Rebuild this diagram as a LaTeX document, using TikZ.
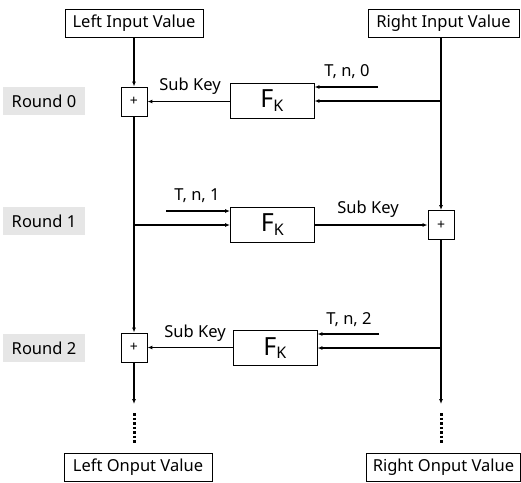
\documentclass[tikz,border=0pt]{standalone}
\usepackage{fontspec}
\setmainfont{Noto Sans}
\usetikzlibrary{arrows.meta}
\definecolor{roundbg}{HTML}{E6E6E6}
\begin{document}
\begin{tikzpicture}[x=1pt,y=-1pt,
  valbox/.style={draw,line width=0.9pt,minimum height=28pt,inner sep=0pt,font=\fontsize{16.5}{18}\selectfont},
  plusbox/.style={draw,line width=0.9pt,minimum width=26pt,minimum height=29pt,inner sep=0pt,font=\fontsize{14}{16}\selectfont},
  fkbox/.style={draw,line width=0.9pt,minimum width=84pt,minimum height=35pt,inner sep=0pt,font=\fontsize{25}{28}\selectfont},
  roundlbl/.style={fill=roundbg,minimum width=82pt,minimum height=28pt,inner sep=0pt,font=\fontsize{16.5}{18}\selectfont},
  lbl/.style={font=\fontsize{16.5}{18}\selectfont,inner sep=1pt},
  arr/.style={line width=1.3pt,-{Latex[length=5pt,width=4pt]}},
  ln/.style={line width=1.3pt},
  dots/.style={line width=3pt,dash pattern=on 2.5pt off 2pt}
]
\useasboundingbox (0,0) rectangle (521,482);
% input/output boxes
\node[valbox,minimum width=138pt] (lin) at (134,23) {Left Input Value};
\node[valbox,minimum width=151pt] (rin) at (443.5,23) {Right Input Value};
\node[valbox,minimum width=148pt] (lout) at (138,467) {Left Onput Value};
\node[valbox,minimum width=154pt] (rout) at (443.5,467) {Right Onput Value};
% round labels
\node[roundlbl] (r0) at (44,101) {Round 0};
\node[roundlbl] (r1) at (44,221) {Round 1};
\node[roundlbl] (r2) at (44,348) {Round 2};
% plus boxes
\node[plusbox] (p0) at (134,101.5) {+};
\node[plusbox] (p1) at (441,225) {+};
\node[plusbox] (p2) at (134,347.5) {+};
% F boxes
\node[fkbox] (f0) at (272,100.5) {F\textsubscript{\fontsize{16}{18}\selectfont K}};
\node[fkbox] (f1) at (272.5,224.5) {F\textsubscript{\fontsize{16}{18}\selectfont K}};
\node[fkbox] (f2) at (275,348) {F\textsubscript{\fontsize{16}{18}\selectfont K}};
% coordinates
\coordinate (t0s) at (378,87);
\coordinate (t1s) at (166,211);
\coordinate (t2s) at (379,334);
\coordinate (b0) at (441,101);
\coordinate (b1) at (135,225);
\coordinate (b2) at (441,348);
\coordinate (la) at (134,404);
\coordinate (ra) at (441,404);
\coordinate (ld1) at (134,413);
\coordinate (ld2) at (134,443);
\coordinate (rd1) at (441,413);
\coordinate (rd2) at (441,443);
% left column
\draw[arr] (lin.south -| p0) -- (p0.north);
\draw[arr] (p0.south) -- (p2.north);
\draw[arr] (p2.south) -- (la);
\draw[dots] (ld1) -- (ld2);
% right column
\draw[arr] (rin.south -| p1) -- (p1.north);
\draw[arr] (p1.south) -- (ra);
\draw[dots] (rd1) -- (rd2);
% round 0
\draw[arr] (b0) -- (b0 -| f0.east);
\draw[arr] (t0s) -- (t0s -| f0.east);
\draw[arr] (f0.west |- p0) -- (p0.east);
\node[lbl,anchor=south] at (347,80) {T, n, 0};
\node[lbl,anchor=south] at (190,96) {Sub Key};
% round 1
\draw[ln] (b1) -- (p2.north |- b1);
\draw[arr] (b1) -- (b1 -| f1.west);
\draw[arr] (t1s) -- (t1s -| f1.west);
\draw[arr] (f1.east |- p1) -- (p1.west);
\node[lbl,anchor=south] at (197,204) {T, n, 1};
\node[lbl,anchor=south] at (368,219) {Sub Key};
% round 2
\draw[arr] (b2) -- (b2 -| f2.east);
\draw[arr] (t2s) -- (t2s -| f2.east);
\draw[arr] (f2.west |- p2) -- (p2.east);
\node[lbl,anchor=south] at (349,328) {T, n, 2};
\node[lbl,anchor=south] at (195,343) {Sub Key};
\end{tikzpicture}
\end{document}
